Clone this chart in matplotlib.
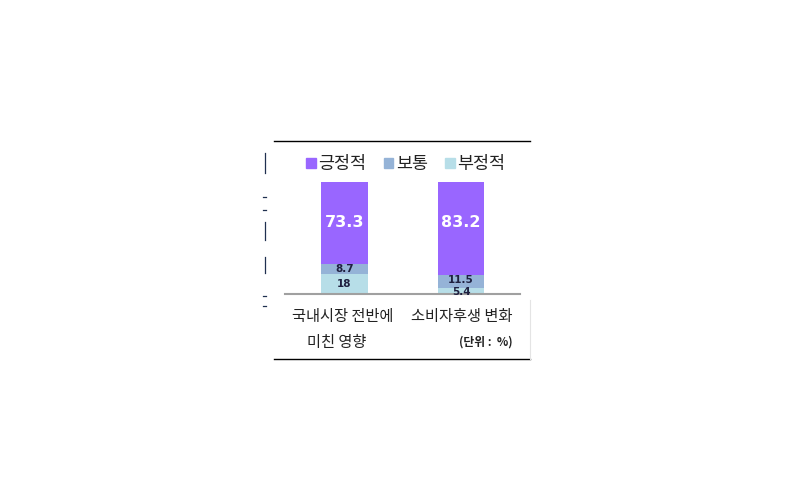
import matplotlib.pyplot as plt
from matplotlib.patches import Patch
from matplotlib.lines import Line2D

plt.rcParams['font.family'] = ['Noto Sans CJK KR', 'DejaVu Sans']

# data
categories = ['국내시장 전반에\n미친 영향', '소비자후생 변화']
series_names = ['긍정적', '보통', '부정적']
negative = [18, 5.4]
neutral = [8.7, 11.5]
positive = [73.3, 83.2]
unit_note = '(단위 :  %)'

colors = {'긍정적': '#9966FF', '보통': '#95B3D7', '부정적': '#B7DEE8'}

fig = plt.figure(figsize=(8, 5), dpi=100)

# axes placed over the small chart area inside the white canvas
ax = fig.add_axes([285 / 800, (500 - 294) / 500, 235 / 800, 112 / 500])
x = range(len(categories))
w = 0.40

ax.bar(x, negative, w, color=colors['부정적'])
ax.bar(x, neutral, w, bottom=negative, color=colors['보통'])
bottom2 = [a + b for a, b in zip(negative, neutral)]
ax.bar(x, positive, w, bottom=bottom2, color=colors['긍정적'])

ax.set_xlim(-0.511, 1.506)
ax.set_ylim(0, 100)
for s in ['top', 'right', 'left']:
    ax.spines[s].set_visible(False)
ax.spines['bottom'].set_color('#A0A0A0')
ax.spines['bottom'].set_linewidth(1.5)
ax.set_xticks([])
ax.set_yticks([])

# value labels
dark = '#1F2040'
for i in x:
    ax.text(i, 63.5, f'{positive[i]}', ha='center', va='center',
            color='white', fontsize=11.5, fontweight='bold', family='DejaVu Sans')
ax.text(0, negative[0] + neutral[0] / 2, f'{neutral[0]}', ha='center', va='center',
        color=dark, fontsize=7.5, fontweight='bold', family='DejaVu Sans')
ax.text(0, negative[0] / 2, f'{negative[0]}', ha='center', va='center',
        color=dark, fontsize=7.5, fontweight='bold', family='DejaVu Sans')
ax.text(1, negative[1] + neutral[1] / 2 + 1, f'{neutral[1]}', ha='center', va='center',
        color=dark, fontsize=7.5, fontweight='bold', family='DejaVu Sans')
ax.text(1, negative[1] / 2 - 0.5, f'{negative[1]}', ha='center', va='center',
        color=dark, fontsize=7.5, fontweight='bold', family='DejaVu Sans')

# category labels
fig.text(343 / 800, 1 - 317 / 500, '국내시장 전반에', ha='center', va='center',
         fontsize=11, color='#222222', fontweight='medium')
fig.text(337 / 800, 1 - 342 / 500, '미친 영향', ha='center', va='center',
         fontsize=11, color='#222222', fontweight='medium')
fig.text(462 / 800, 1 - 317 / 500, categories[1], ha='center', va='center',
         fontsize=11, color='#222222', fontweight='medium')
fig.text(513 / 800, 1 - 342 / 500, unit_note, ha='right', va='center',
         fontsize=8.5, color='#222222', fontweight='bold')

# legend
handles = [Patch(color=colors[n], label=n) for n in series_names]
fig.legend(handles=handles, loc='center', bbox_to_anchor=(406 / 800, 1 - 164 / 500),
           ncol=3, frameon=False, fontsize=12.5, handlelength=0.55, handleheight=0.55,
           handletextpad=0.15, columnspacing=1.0, labelcolor='#222222')

# frame lines of the pasted chart
fig.add_artist(Line2D([274 / 800, 530 / 800], [1 - 141 / 500] * 2, color='black', lw=1))
fig.add_artist(Line2D([274 / 800, 530 / 800], [1 - 359 / 500] * 2, color='black', lw=1))
fig.add_artist(Line2D([530 / 800] * 2, [1 - 300 / 500, 1 - 359 / 500], color='#E4E4E4', lw=0.8))
# leftover axis fragments at left edge
for y0, y1 in [(153, 173), (222, 240), (257, 273)]:
    fig.add_artist(Line2D([264.5 / 800] * 2, [1 - y0 / 500, 1 - y1 / 500], color='#203050', lw=0.9))
for y0 in [197, 210, 296, 306]:
    fig.add_artist(Line2D([263 / 800, 266 / 800], [1 - y0 / 500] * 2, color='#203050', lw=0.9))

fig.savefig('out.png', dpi=100)
